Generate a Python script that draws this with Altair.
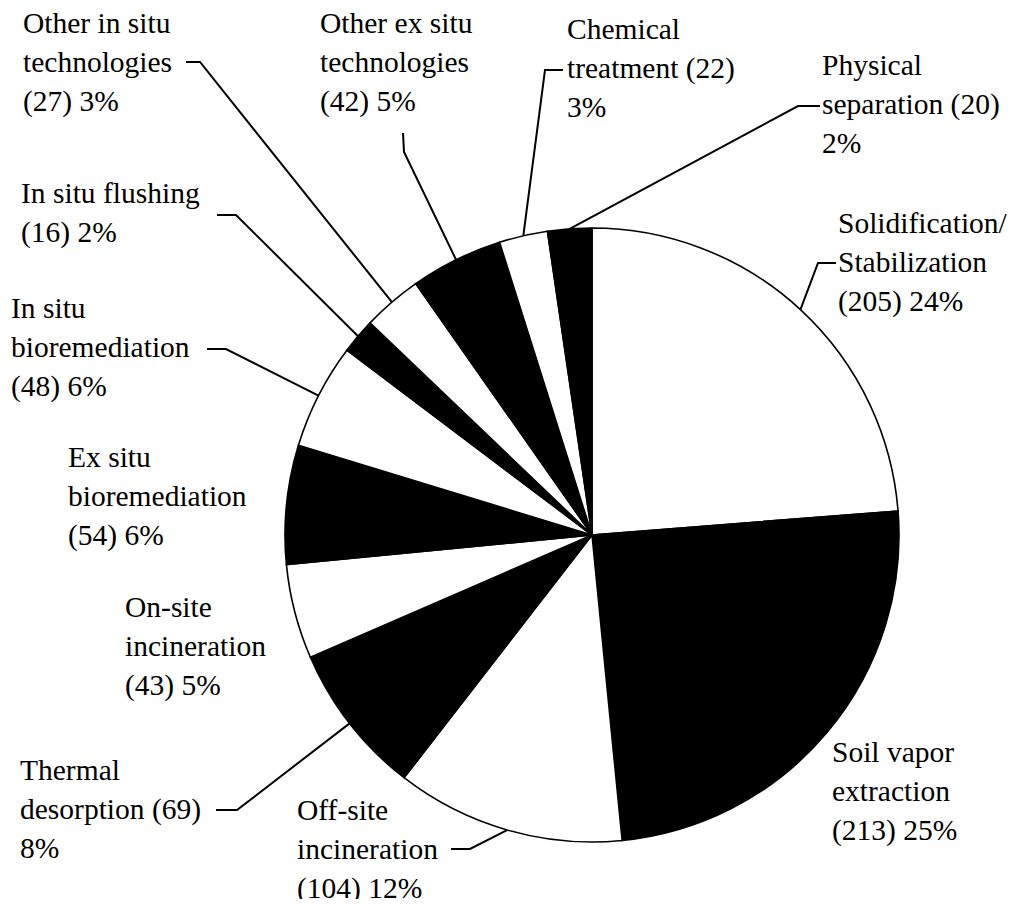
import math
import altair as alt
import pandas as pd

# ---------------- data ----------------
categories = [
    "Solidification/Stabilization", "Soil vapor extraction", "Off-site incineration",
    "Thermal desorption", "On-site incineration", "Ex situ bioremediation",
    "In situ bioremediation", "In situ flushing", "Other in situ technologies",
    "Other ex situ technologies", "Chemical treatment", "Physical separation",
]
values = [205, 213, 104, 69, 43, 54, 48, 16, 27, 42, 22, 20]
label_templates = [
    "Solidification/\nStabilization\n({n}) {p}%",
    "Soil vapor\nextraction\n({n}) {p}%",
    "Off-site\nincineration\n({n}) {p}%",
    "Thermal\ndesorption ({n})\n{p}%",
    "On-site\nincineration\n({n}) {p}%",
    "Ex situ\nbioremediation\n({n}) {p}%",
    "In situ\nbioremediation\n({n}) {p}%",
    "In situ flushing\n({n}) {p}%",
    "Other in situ\ntechnologies\n({n}) {p}%",
    "Other ex situ\ntechnologies\n({n}) {p}%",
    "Chemical\ntreatment ({n})\n{p}%",
    "Physical\nseparation ({n})\n{p}%",
]

# ---------------- style / layout ----------------
fills = ["white", "black"] * 6
W, H = 1010, 891
M = 8
CX, CY, R = 592, 535, 307
FONT = "Times New Roman"
FS = 29.5
LH = 38.8
label_xy = [
    (838, 233), (832, 762), (297, 820), (20, 780), (125, 617), (68, 467),
    (11, 318), (21, 203), (23, 33), (320, 33), (567, 39), (822, 75),
]
# leader: elbow point then point next to the text (None = no leader)
leaders = [
    [(818, 263), (836, 263)],
    None,
    [(470, 849), (451, 849)],
    [(237, 810), (216, 810)],
    None,
    None,
    [(226, 349), (207, 349)],
    [(236, 215), (217, 215)],
    [(200, 62), (186, 62)],
    [(404, 152), (403, 133)],
    [(545, 70), (563, 70)],
    [(798, 106), (820, 106)],
]

total = sum(values)
rows, lab_rows, lead_rows = [], [], []
cum = 0
for i, (c, v) in enumerate(zip(categories, values)):
    mid = (cum + v / 2) / total * 2 * math.pi
    cum += v
    pct = round(v / total * 100)
    rows.append({"cat": c, "value": v, "order": i, "fill": fills[i]})
    lx, ly = label_xy[i]
    lab_rows.append({"cat": c, "x": lx, "y": ly, "i": i,
                     "text": label_templates[i].format(n=v, p=pct)})
    if leaders[i]:
        ex, ey = CX + R * math.sin(mid), CY - R * math.cos(mid)
        pts = [(ex, ey)] + leaders[i]
        for k, (px, py) in enumerate(pts):
            lead_rows.append({"cat": c, "seq": k, "x": px, "y": py})

df_pie = pd.DataFrame(rows)
df_lab = pd.DataFrame(lab_rows)
df_lead = pd.DataFrame(lead_rows)

xs = alt.Scale(domain=[M, M + W])
ys = alt.Scale(domain=[M + H, M])

pie = alt.Chart(df_pie).mark_arc(radius=R, stroke="black", strokeWidth=1.6).encode(
    theta=alt.Theta("value:Q", stack=True),
    order=alt.Order("order:Q"),
    color=alt.Color("fill:N", scale=None, legend=None),
    x=alt.XDatum(CX, type="quantitative", scale=xs, axis=None),
    y=alt.YDatum(CY, type="quantitative", scale=ys, axis=None),
)

lines = alt.Chart(df_lead).mark_line(color="black", strokeWidth=2).encode(
    x=alt.X("x:Q", scale=xs, axis=None),
    y=alt.Y("y:Q", scale=ys, axis=None),
    detail="cat:N",
    order="seq:Q",
)

layers = [pie, lines]
for i in range(len(categories)):
    layers.append(alt.Chart(df_lab).transform_filter(alt.datum.i == i).mark_text(
        align="left", baseline="alphabetic", fontSize=FS, font=FONT,
        lineBreak="\n", lineHeight=LH, color="black",
    ).encode(
        x=alt.X("x:Q", scale=xs, axis=None),
        y=alt.Y("y:Q", scale=ys, axis=None),
        text="text:N",
    ))

chart = alt.layer(*layers).properties(
    width=W, height=H, padding=0,
    autosize=alt.AutoSizeParams(type="none"),
    background="white",
).configure_view(stroke=None)

chart.save("out.html", embed_options={"renderer": "svg", "actions": False})
